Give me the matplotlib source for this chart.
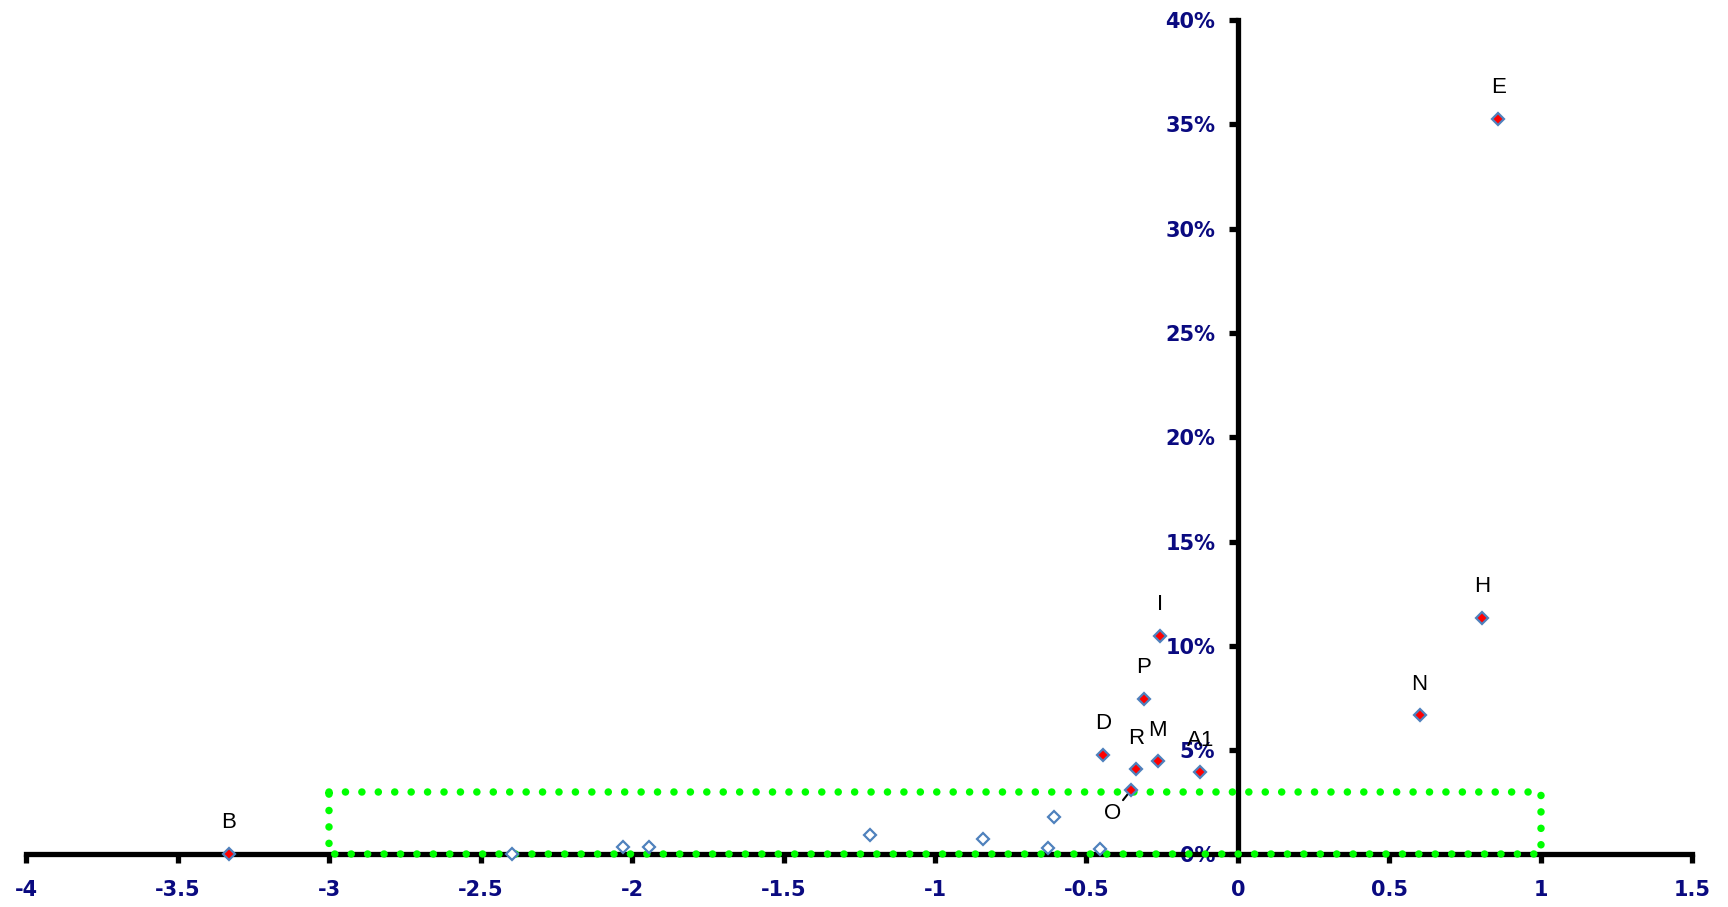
import matplotlib
matplotlib.use('Agg')
import matplotlib.pyplot as plt
import numpy as np
from matplotlib.ticker import PercentFormatter, FuncFormatter

# labelled points (filled)
names = ['B', 'E', 'H', 'N', 'I', 'P', 'D', 'R', 'M', 'A1', 'O']
x_lab = [-3.332, 0.860, 0.807, 0.600, -0.258, -0.311, -0.445, -0.337, -0.264, -0.124, -0.354]
y_lab = [0.0003, 0.3527, 0.1133, 0.0667, 0.1047, 0.0745, 0.0476, 0.0408, 0.0446, 0.0396, 0.0307]

# unlabelled points (hollow)
x_other = [-2.398, -2.029, -1.943, -1.213, -0.840, -0.626, -0.608, -0.454]
y_other = [0.0003, 0.0037, 0.0037, 0.0093, 0.0074, 0.0033, 0.0181, 0.0026]

# green highlight box
box_x = [-3, 1]
box_y = [0, 0.03]

x_ticks = np.arange(-4, 1.51, 0.5)
y_ticks = np.arange(0, 0.401, 0.05)

navy = '#0a0a80'
blue = '#4f81bd'

fig = plt.figure(figsize=(17.28, 9.07), dpi=100)
ax = fig.add_axes([0.0152, 0.0579, 0.9641, 0.9201])

ax.set_xlim(-4, 1.5)
ax.set_ylim(0, 0.4)

for side in ['top', 'right']:
    ax.spines[side].set_visible(False)
ax.spines['left'].set_position(('data', 0))
ax.spines['bottom'].set_position(('data', 0))
for side in ['left', 'bottom']:
    ax.spines[side].set_linewidth(3.8)
    ax.spines[side].set_color('black')
    ax.spines[side].set_capstyle('projecting')

ax.set_xticks(x_ticks)
ax.set_yticks(y_ticks)
ax.xaxis.set_major_formatter(FuncFormatter(lambda v, p: '{:g}'.format(v)))
ax.yaxis.set_major_formatter(PercentFormatter(1.0, decimals=0))
ax.tick_params(direction='out', length=6.3, width=3.8, color='black',
               labelsize=15, labelcolor=navy)
ax.tick_params(axis='x', pad=12)
ax.tick_params(axis='y', pad=10)
for lab in ax.get_xticklabels() + ax.get_yticklabels():
    lab.set_fontweight('bold')

# dotted box
ax.plot([box_x[0], box_x[1], box_x[1], box_x[0], box_x[0]],
        [box_y[1], box_y[1], box_y[0], box_y[0], box_y[1]],
        color='#00ff00', lw=5.4, linestyle=(0, (0.01, 2.18)),
        dash_capstyle='round', zorder=3, clip_on=False)

ax.plot(x_other, y_other, linestyle='none', marker='D', ms=5.8,
        mfc='white', mec=blue, mew=1.6, zorder=4, clip_on=False)
ax.plot(x_lab, y_lab, linestyle='none', marker='D', ms=5.8,
        mfc='red', mec=blue, mew=1.6, zorder=5, clip_on=False)

for name, x, y in zip(names, x_lab, y_lab):
    if name == 'O':
        ax.annotate(name, xy=(x, y), xytext=(-13, -20.5), textcoords='offset points',
                    ha='center', va='baseline', fontsize=16, family='Liberation Sans',
                    arrowprops=dict(arrowstyle='-', color='black', lw=1.5,
                                    shrinkA=0, shrinkB=2))
    else:
        ax.annotate(name, xy=(x, y), xytext=(0, 18.5), textcoords='offset points',
                    ha='center', va='baseline', fontsize=16, family='Liberation Sans')

plt.savefig('out.png', dpi=100)
